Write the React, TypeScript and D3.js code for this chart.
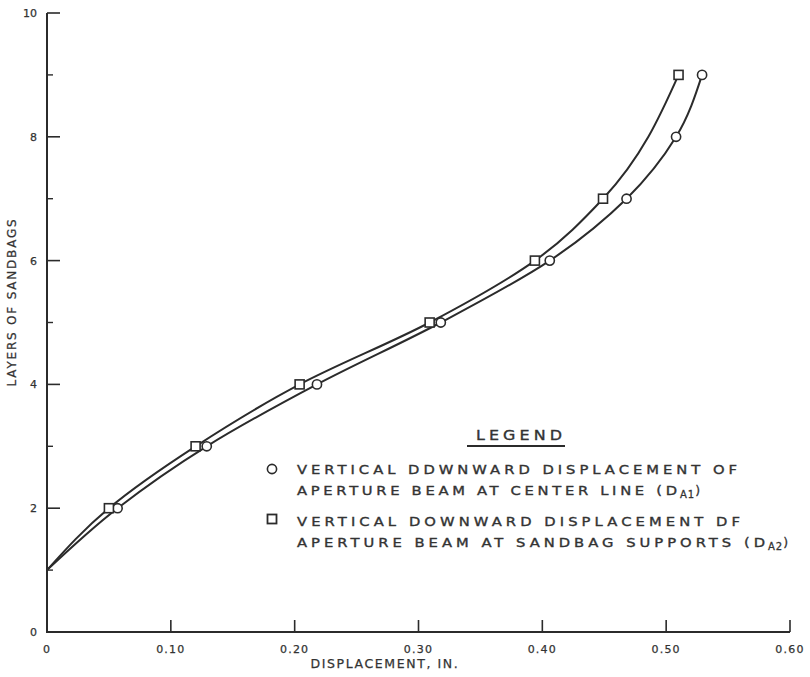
import React from 'react';
import * as d3 from 'd3';

// layers of sandbags vs. downward displacement (in.)
const centerLayers = [2, 3, 4, 5, 6, 7, 8, 9];
const centerDisp = [0.057, 0.129, 0.218, 0.318, 0.406, 0.468, 0.508, 0.529];
const supportLayers = [2, 3, 4, 5, 6, 7, 9];
const supportDisp = [0.05, 0.12, 0.204, 0.309, 0.394, 0.449, 0.51];
// both curves start from one layer at zero displacement
const startDisp = 0;
const startLayers = 1;

const xTicks = [0, 0.1, 0.2, 0.3, 0.4, 0.5, 0.6];
const xTickLabels = ['0', '0.10', '0.20', '0.30', '0.40', '0.50', '0.60'];
const yTicks = [0, 2, 4, 6, 8, 10];
const yMinorTicks = [1, 3, 5, 7, 9];

const INK = '#2b2b2b';
const TEXT = '#333';
const FONT = '"DejaVu Sans", sans-serif';
const WIDEN = 1.18; // the scanned lettering is wider than DejaVu

function WideText({x, y, width, size, children}: {x: number; y: number; width: number; size: number; children: React.ReactNode}) {
  return (
    <text transform={`translate(${x},${y}) scale(${WIDEN},1)`} fontFamily={FONT} fontSize={size}
      fill={TEXT} stroke={TEXT} strokeWidth={0.35} textLength={width / WIDEN}
      lengthAdjust="spacing">{children}</text>
  );
}

export default function App() {
  const x = d3.scaleLinear().domain([0, 0.6]).range([47, 790]);
  const y = d3.scaleLinear().domain([0, 10]).range([632, 13]);

  const line = d3
    .line<[number, number]>()
    .x(d => x(d[0]))
    .y(d => y(d[1]))
    .curve(d3.curveMonotoneY);

  const centerPts: [number, number][] = [[startDisp, startLayers]].concat(
    centerDisp.map((v, i) => [v, centerLayers[i]])
  ) as [number, number][];
  const supportPts: [number, number][] = [[startDisp, startLayers]].concat(
    supportDisp.map((v, i) => [v, supportLayers[i]])
  ) as [number, number][];

  const x0 = x(0);
  const y0 = y(0);

  return (
    <div style={{position: 'absolute', left: 0, top: 0}}>
      <svg width={810} height={677} style={{display: 'block', background: '#fff'}}>
        {/* axes */}
        <path d={`M${x0},${y(10)}V${y0}H${x(0.6)}`} fill="none" stroke={INK} strokeWidth={2} />
        {yTicks.map(t => (
          <line key={'ym' + t} x1={x0} x2={x0 + 13} y1={y(t)} y2={y(t)} stroke={INK} strokeWidth={1.6} />
        ))}
        {yMinorTicks.map(t => (
          <line key={'yn' + t} x1={x0} x2={x0 + 6} y1={y(t)} y2={y(t)} stroke={INK} strokeWidth={1.4} />
        ))}
        {xTicks.slice(1).map(t => (
          <line key={'xm' + t} x1={x(t)} x2={x(t)} y1={y0} y2={y0 - 12} stroke={INK} strokeWidth={1.6} />
        ))}
        <g fontFamily={FONT} fill={TEXT} stroke={TEXT} strokeWidth={0.25}>
          {yTicks.map(t => (
            <text key={'yl' + t} x={x0 - 10} y={y(t) + 4} textAnchor="end" fontSize={11}>{t}</text>
          ))}
          {xTicks.map((t, i) => (
            <text key={'xl' + t} x={x(t)} y={y0 + 21} textAnchor="middle"
              fontSize={11} letterSpacing={1.2}>{xTickLabels[i]}</text>
          ))}
          <text x={385} y={668} textAnchor="middle" fontSize={12.5}
            letterSpacing={1.6}>DISPLACEMENT, IN.</text>
          <text transform="translate(16,302) rotate(-90)" textAnchor="middle"
            fontSize={12} letterSpacing={1.8}>LAYERS OF SANDBAGS</text>
        </g>

        {/* curves */}
        <path d={line(centerPts) || ''} fill="none" stroke={INK} strokeWidth={2} />
        <path d={line(supportPts) || ''} fill="none" stroke={INK} strokeWidth={2} />

        {/* markers */}
        {centerDisp.map((v, i) => (
          <circle key={'c' + i} cx={x(v)} cy={y(centerLayers[i])} r={4.6}
            fill="#fff" stroke={INK} strokeWidth={1.6} />
        ))}
        {supportDisp.map((v, i) => (
          <rect key={'s' + i} x={x(v) - 4.5} y={y(supportLayers[i]) - 4.5} width={9} height={9}
            fill="#fff" stroke={INK} strokeWidth={1.6} />
        ))}

        {/* legend */}
        <WideText x={476} y={440} width={86} size={13.5}>LEGEND</WideText>
        <line x1={467} x2={565} y1={446} y2={446} stroke={INK} strokeWidth={2} />
        <circle cx={272} cy={469} r={4.6} fill="#fff" stroke={INK} strokeWidth={1.6} />
        <rect x={267.5} y={514.5} width={9} height={9} fill="#fff" stroke={INK} strokeWidth={1.8} />
        <WideText x={297} y={474} width={440} size={12.5}>VERTICAL DDWNWARD DISPLACEMENT OF</WideText>
        <WideText x={297} y={495} width={380} size={12.5}>APERTURE BEAM AT CENTER LINE (D</WideText>
        <text x={680} y={498} fontFamily={FONT} fontSize={10} fill={TEXT} stroke={TEXT}
          strokeWidth={0.3} letterSpacing={1}>
          A1<tspan dy={-3} fontSize={12.5}>)</tspan>
        </text>
        <WideText x={297} y={526} width={443} size={12.5}>VERTICAL DOWNWARD DISPLACEMENT DF</WideText>
        <WideText x={297} y={547} width={468} size={12.5}>APERTURE BEAM AT SANDBAG SUPPORTS (D</WideText>
        <text x={768} y={550} fontFamily={FONT} fontSize={10} fill={TEXT} stroke={TEXT}
          strokeWidth={0.3} letterSpacing={1}>
          A2<tspan dy={-3} fontSize={12.5}>)</tspan>
        </text>
      </svg>
    </div>
  );
}
